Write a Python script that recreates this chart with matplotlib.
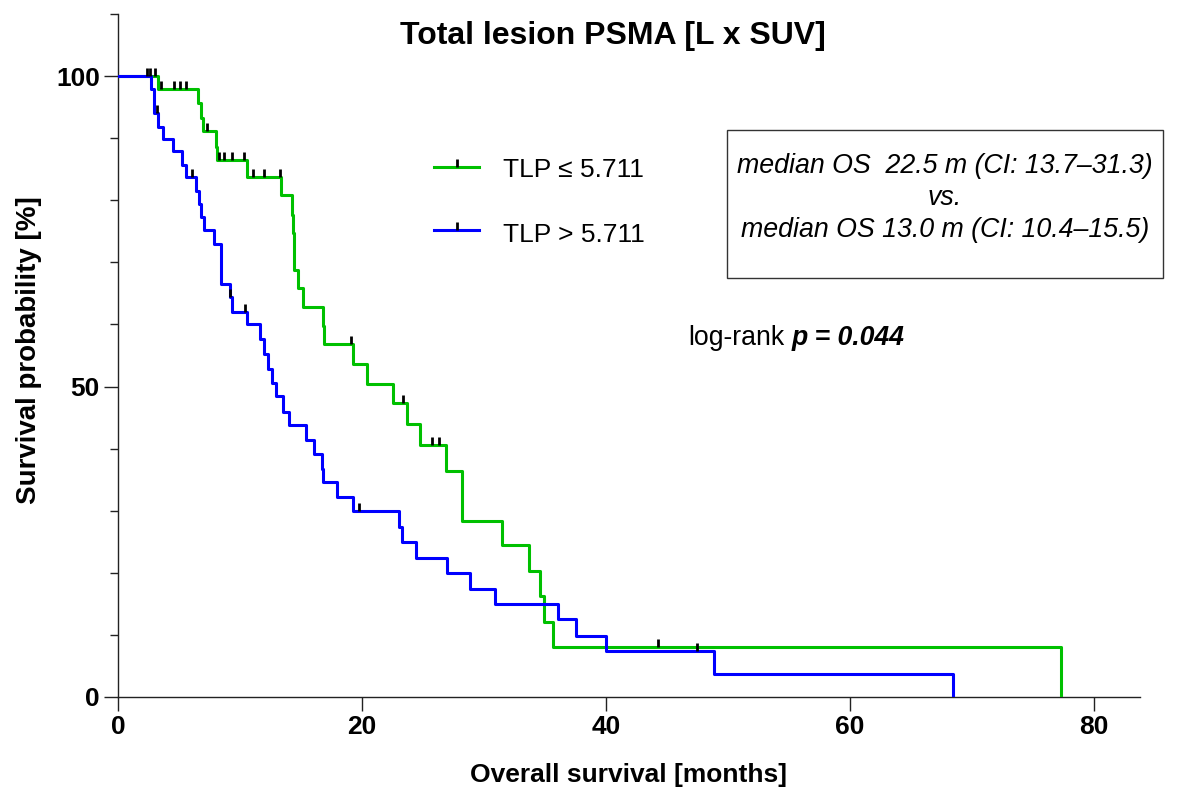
import numpy as np
import matplotlib
matplotlib.use('Agg')
import matplotlib.pyplot as plt
from matplotlib.patches import Rectangle
from matplotlib.ticker import MultipleLocator

plt.rcParams['font.family'] = ['Liberation Sans', 'DejaVu Sans']

# ---- data ----
# TLP <= 5.711 (green)
low_times = [0, 3.25, 6.59, 6.78, 6.95, 8.04, 8.15, 10.58, 13.34, 14.30, 14.38, 14.46,
             14.79, 15.2, 16.79, 16.87, 19.3, 20.4, 22.53, 23.7, 24.77, 26.88, 28.22,
             31.5, 33.7, 34.6, 34.9, 35.7, 77.36]
low_surv = [100, 97.85, 95.6, 93.3, 91.1, 88.6, 86.5, 83.7, 80.8, 77.6, 74.7, 68.8,
            65.8, 62.8, 59.7, 56.8, 53.6, 50.4, 47.3, 44.0, 40.6, 36.45, 28.3,
            24.4, 20.3, 16.2, 12.0, 8.1, 0]
low_censor = [2.62, 3.0, 3.5, 4.6, 5.09, 5.58, 7.27, 8.29, 8.70, 9.38, 10.31, 11.1,
              12.0, 13.29, 19.1, 23.4, 25.73, 26.28, 44.3]

# TLP > 5.711 (blue)
high_times = [0, 2.68, 2.98, 3.31, 3.66, 4.54, 5.26, 5.58, 6.38, 6.67, 6.78, 7.08, 7.88,
              8.45, 9.19, 9.32, 10.58, 11.65, 12.0, 12.28, 12.6, 12.96, 13.51, 14.03,
              15.45, 16.08, 16.73, 16.84, 17.94, 19.25, 23.0, 23.27, 24.45, 26.96,
              28.88, 30.95, 36.07, 37.57, 40.03, 48.9, 68.5]
high_surv = [100, 97.85, 94.1, 91.8, 89.9, 88.0, 85.7, 83.7, 81.5, 79.4, 77.3, 75.2, 72.9,
             66.5, 64.5, 62.0, 60.0, 57.6, 55.2, 52.9, 50.6, 48.4, 45.9, 43.8,
             41.4, 39.1, 36.8, 34.6, 32.2, 29.95, 27.3, 24.9, 22.4, 20.0,
             17.4, 14.9, 12.5, 9.9, 7.46, 3.7, 0]
high_censor = [2.35, 3.23, 6.05, 9.22, 10.42, 19.8, 47.5]

x_ticks = [0, 20, 40, 60, 80]
y_ticks = [0, 50, 100]
labels = ['TLP \u2264 5.711', 'TLP > 5.711']

GREEN = '#00C000'
BLUE = '#0000FF'


def level_at(times, surv, t):
    i = np.searchsorted(times, t, side='right') - 1
    return np.asarray(surv)[i]


W, H = 1196, 789
fig = plt.figure(figsize=(W / 100, H / 100), dpi=100)
ax = fig.add_axes([118 / W, 92 / H, 1022 / W, 683 / H])

ax.step(low_times, low_surv, where='post', color=GREEN, lw=2.2, zorder=3)
ax.step(high_times, high_surv, where='post', color=BLUE, lw=2.2, zorder=3.5)
ax.plot(low_censor, level_at(low_times, low_surv, low_censor), ls='none', marker=2,
        ms=5.5, mew=2, color='black', zorder=5)
ax.plot(high_censor, level_at(high_times, high_surv, high_censor), ls='none', marker=2,
        ms=5.5, mew=2, color='black', zorder=5)

ax.set_xlim(0, 83.8)
ax.set_ylim(0, 110)
ax.set_xticks(x_ticks)
ax.set_yticks(y_ticks)
ax.yaxis.set_minor_locator(MultipleLocator(10))
for s in ['top', 'right']:
    ax.spines[s].set_visible(False)
for s in ['left', 'bottom']:
    ax.spines[s].set_linewidth(1.0)
    ax.spines[s].set_color('#222222')
ax.tick_params(which='major', direction='out', length=10, width=1, color='#222222',
               labelsize=19, pad=3)
ax.tick_params(which='minor', direction='out', length=5.5, width=1, color='#222222')
for lab in ax.get_xticklabels() + ax.get_yticklabels():
    lab.set_fontweight('bold')

# legend (manual)
for (yl, yt), col, lab in [((0.7764, 0.7618), GREEN, labels[0]),
                           ((0.6837, 0.6666), BLUE, labels[1])]:
    ax.plot([0.3092, 0.3528], [yl, yl], transform=ax.transAxes, color=col, lw=2.2,
            clip_on=False)
    ax.plot([0.3313], [yl], transform=ax.transAxes, marker=2, ms=5.5, mew=2,
            color='black', clip_on=False)
    ax.text(0.3764, yt, lab, transform=ax.transAxes, fontsize=19, ha='left',
            va='baseline')

# text box
ax.add_patch(Rectangle((0.5962, 0.6135), 1.0225 - 0.5962, 0.8302 - 0.6135,
                       transform=ax.transAxes, fill=False, ec='#333333', lw=1.0,
                       clip_on=False))
box_lines = ['median OS  22.5 m (CI: 13.7\u201331.3)', 'vs.',
             'median OS 13.0 m (CI: 10.4\u201315.5)']
for txt, yb in zip(box_lines, [173, 205, 237]):
    ax.text((945 - 118) / 1022, (697 - yb) / 683, txt, transform=ax.transAxes,
            fontsize=19.3, style='italic', ha='center', va='baseline', clip_on=False)

# log-rank text
t1 = ax.text((688 - 118) / 1022, (697 - 345) / 683, 'log-rank', transform=ax.transAxes,
             fontsize=19.2, ha='left', va='baseline')
ax.annotate('p = 0.044', xy=(1, 0), xycoords=t1, xytext=(5.3, 0),
            textcoords='offset points', fontsize=19.2, fontweight='bold', style='italic',
            ha='left', va='bottom')

# title and axis labels
fig.text(613 / W, 1 - 44 / H, 'Total lesion PSMA [L x SUV]', fontsize=23,
         fontweight='bold', ha='center', va='baseline')
fig.text(628 / W, 1 - 782 / H, 'Overall survival [months]', fontsize=19,
         fontweight='bold', ha='center', va='baseline')
fig.text(29 / W, 1 - 350 / H, 'Survival probability [%]', fontsize=20,
         fontweight='bold', ha='center', va='center', rotation=90)

fig.savefig('out.png', dpi=100, facecolor='white')
